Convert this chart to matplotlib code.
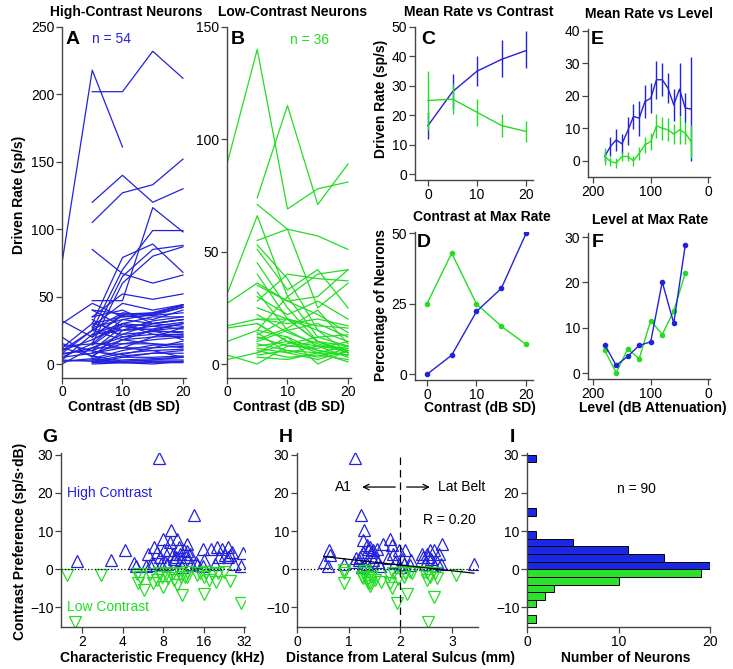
import numpy as np
import matplotlib
matplotlib.use("Agg")
import matplotlib.pyplot as plt

plt.rcParams['font.family'] = ['Liberation Sans', 'DejaVu Sans']
plt.rcParams['font.size'] = 10

BLUE = '#2222dd'
GREEN = '#22dd22'

# ---------------- data ----------------
contrasts = [0, 5, 10, 15, 20]
nan = np.nan

# A: driven rate of high-contrast neurons (sp/s) at each contrast
high_rates = [
    [75, 218, 161, nan, nan], [nan, 202, 202, 232, 212], [nan, 120, 140, 120, 130],
    [nan, 105, 127, 133, 152], [nan, 85, 67, 60, 66], [nan, 47, 47, 116, 98],
    [nan, 30, 79, 89, 68], [nan, 25, 70, 99, 99], [nan, 20, 65, 85, 88],
    [nan, 15, 60, 80, 87], [nan, 35, 52, 48, 52], [nan, 28, 45, 40, 44],
    [12, 30, 35, 38, 43], [8, 25, 38, 36, 42], [32, 20, 37, 37, 44],
    [nan, 20, 36, 33, 40], [10, 18, 30, 35, 35], [5, 15, 33, 30, 33],
    [nan, 14, 30, 28, 31], [15, 10, 28, 30, 28], [3, 22, 25, 26, 30],
    [nan, 40, 28, 25, 27], [20, 5, 25, 28, 26], [nan, 26, 22, 24, 24],
    [7, 12, 20, 22, 22], [nan, 10, 18, 20, 21], [nan, 8, 15, 18, 20],
    [13, 15, 15, 15, 14], [nan, 12, 12, 12, 13], [nan, 4, 10, 14, 15],
    [2, 3, 8, 10, 11], [nan, 2, 6, 8, 10], [nan, 1, 5, 5, 6],
    [nan, 3, 3, 4, 5], [3, 2, 2, 3, 3], [nan, 1, 1, 2, 2],
    [nan, 0, 1, 1, 1], [nan, 33, 20, 25, 18], [30, 45, 35, 36, 38],
    [nan, 35, 40, 30, 33], [10, 25, 18, 15, 12], [nan, 18, 28, 25, 30],
    [5, 8, 12, 20, 27], [nan, 22, 30, 22, 20], [nan, 6, 18, 25, 23],
    [8, 10, 5, 8, 8], [nan, 30, 25, 32, 35], [0, 12, 22, 30, 33],
    [nan, 16, 12, 10, 5], [nan, 40, 37, 38, 44], [12, 6, 2, 3, 5],
    [nan, 27, 33, 37, 42], [nan, 9, 7, 12, 17], [2, 4, 1, 0, 2],
]

# B: driven rate of low-contrast neurons
low_rates = [
    [89, 140, 69, 78, 81], [nan, 74, 115, 71, 89], [nan, 71, 60, 57, 51],
    [31, 66, 30, 40, 42], [nan, 55, 60, 25, 36], [nan, 53, 38, 15, 5],
    [nan, 51, 33, 42, 25], [27, 36, 28, 30, 42], [nan, 45, 25, 10, 5],
    [17, 20, 20, 17, 16], [nan, 28, 40, 38, 37], [10, 15, 30, 12, 8],
    [nan, 30, 22, 28, 20], [nan, 25, 20, 15, 10], [4, 0, 8, 10, 5],
    [nan, 20, 18, 20, 17], [nan, 18, 10, 8, 7], [2, 5, 12, 0, 6],
    [nan, 15, 12, 6, 4], [nan, 13, 20, 10, 6], [nan, 12, 8, 7, 10],
    [nan, 10, 15, 8, 3], [nan, 9, 6, 5, 4], [nan, 8, 10, 5, 8],
    [nan, 7, 5, 8, 6], [nan, 6, 3, 4, 2], [nan, 5, 9, 12, 13],
    [nan, 4, 6, 3, 7], [nan, 3, 2, 5, 1], [16, 18, 10, 6, 4],
    [nan, 40, 20, 10, 8], [nan, 35, 28, 22, 14], [nan, 11, 16, 24, 9],
    [nan, 22, 14, 9, 5], [nan, 14, 5, 2, 6], [nan, 32, 15, 18, 12],
]

# C: mean rate vs contrast
mean_high = [16.5, 28, 35, 39, 42]
lo_high = [12, 22, 30, 33, 36]
hi_high = [21, 34, 40, 45.5, 48.5]
mean_low = [25, 25.5, 21, 16.5, 14.5]
lo_low = [15, 20.5, 16.5, 12.5, 11]
hi_low = [35, 30.5, 25.5, 20.5, 18]

# E: mean rate vs level (dB attenuation)
levels = [180, 170, 160, 150, 140, 130, 120, 110, 100, 90, 80, 70, 60, 50, 40, 30]
lvl_high = [1.3, 4.4, 6.4, 5.2, 9.2, 13.6, 13.1, 18.2, 19.2, 24.9, 24.9, 22.3, 17.2, 22, 16.2, 15.9]
lvl_high_err = [1.5, 3, 3.5, 3, 4.3, 3.7, 5.4, 5.1, 4.6, 5.9, 5.1, 4.6, 4.9, 8.2, 4.6, 16]
lvl_low = [1.3, -0.2, -0.7, 1.3, 1.3, 0, 2.3, 4.9, 5.9, 10.7, 10, 9.5, 8.2, 9.5, 8.5, 5.9]
lvl_low_err = [2.5, 1.5, 1.5, 1.5, 1.5, 1.5, 2, 2.5, 2.5, 3.8, 3.5, 3.5, 3, 4.3, 3.5, 5]

# D: contrast at max rate (% of neurons)
pct_high = [0, 6.8, 22.3, 30.5, 50]
pct_low = [25, 43, 25, 17.1, 10.6]

# F: level at max rate (% of neurons)
max_levels = [180, 160, 140, 120, 100, 80, 60, 40]
lvlmax_high = [6.3, 1.7, 3.7, 6.1, 6.9, 20.1, 11, 28.2]
lvlmax_low = [5.0, 0.1, 5.3, 3.2, 11.6, 8.5, 13.7, 22]

# G: contrast preference vs characteristic frequency (kHz)
cf_high = [1.84, 3.25, 4.16, 4.86, 5.06, 5.93, 6.16, 6.82, 7.15, 6.7, 7.57, 7.46, 8.0, 8.1,
           8.2, 8.6, 9.0, 9.1, 9.4, 9.6, 10.2, 10.5, 10.7, 10.8, 11.4, 11.8, 12.1, 12.6,
           12.8, 13.6, 14.0, 14.4, 15.7, 15.7, 18.1, 19.4, 20.8, 21.8, 23.0, 24.1, 24.1,
           25.9, 26.9, 30.2, 31.6, 6.4, 7.7, 8.8, 10.0, 12.1, 16.0, 20.0, 25.0, 11.0]
pref_high_g = [2.1, 2.5, 5.1, 1.7, 0.9, 0.9, 4.1, 5.8, 4.5, 1.7, 3.2, 29.1, 8.0, 5.0,
               1.9, 1.3, 7.1, 10.2, 4.1, 2.8, 8.0, 5.8, 4.1, 2.4, 5.0, 3.2, 6.7, 4.1,
               1.5, 14.1, 1.9, 1.0, 5.4, 0.9, 5.4, 1.5, 3.1, 5.4, 3.7, 5.8, 3.2,
               4.5, 1.3, 0.8, 4.3, 1.0, 1.5, 5.0, 3.2, 4.8, 2.4, 5.8, 3.7, 0.6]
cf_low = [1.55, 1.76, 2.74, 5.07, 5.2, 5.77, 6.37, 6.76, 7.46, 7.8, 8.0, 8.34, 8.7, 9.4,
          9.7, 10.2, 10.7, 10.9, 11.1, 11.6, 12.1, 14.4, 16.1, 16.1, 16.8, 17.5, 18.6,
          19.7, 20.3, 22.7, 25.1, 30.2, 12.1, 5.4, 7.2, 15.1]
pref_low_g = [-1.6, -13.8, -1.6, -1.3, -3.5, -5.5, -1.3, -3.7, -1.1, -2.0, -4.6, -1.3, -2.4,
              -1.1, -2.9, -4.2, -1.3, -2.0, -6.8, -2.0, -0.7, -1.6, -6.4, -2.0, -0.7, -2.9,
              -1.3, -3.3, -1.1, -0.7, -3.1, -8.8, -2.0, -2.0, -2.9, -1.1]

# H: contrast preference vs distance from lateral sulcus (mm)
dist_high = [1.12, 0.61, 0.52, 0.64, 0.59, 0.9, 1.23, 1.3, 1.28, 1.35, 1.38, 1.22, 1.19, 1.26,
             1.35, 1.44, 1.47, 1.54, 1.41, 1.47, 1.51, 1.57, 1.67, 1.8, 1.83, 1.86, 1.9, 1.98,
             2.04, 2.09, 2.07, 2.19, 2.41, 2.44, 2.48, 2.51, 2.54, 2.57, 2.6, 2.64, 2.65, 2.75,
             2.81, 2.79, 3.42, 1.28, 1.15, 1.3, 1.6, 1.75, 2.0, 2.2, 2.7, 1.1]
pref_high_h = [29.1, 5.0, 1.9, 3.7, 0.9, 1.5, 14.1, 10.2, 7.6, 6.3, 5.4, 3.2, 2.4, 0.6,
               1.5, 4.5, 2.4, 5.4, 5.8, 5.0, 3.2, 1.9, 6.7, 8.0, 6.3, 4.1, 1.9, 5.0,
               2.8, 5.0, 1.5, 1.0, 4.1, 3.2, 1.5, 4.1, 3.2, 5.0, 2.8, 5.0, 1.0, 4.1,
               6.7, 1.5, 1.3, 4.5, 3.0, 1.0, 0.8, 3.0, 0.6, 2.5, 2.0, 2.0]
dist_low = [0.9, 0.91, 0.9, 1.25, 1.28, 1.35, 1.38, 1.41, 1.44, 1.5, 1.28, 1.38, 1.41, 1.63,
            1.77, 1.8, 1.83, 1.86, 1.94, 2.06, 2.09, 2.12, 2.19, 2.22, 2.51, 2.51, 2.54, 2.57,
            2.65, 2.67, 2.7, 3.08, 1.32, 1.45, 2.45, 1.95]
pref_low_h = [-0.3, -1.1, -3.7, -2.0, -2.4, -2.9, -3.7, -4.3, -2.0, -2.9, -1.1, -2.4, -3.7,
              -3.3, -1.6, -3.7, -5.0, -1.1, -8.8, -2.0, -1.1, -6.4, -0.7, -1.1, -1.1, -2.9,
              -13.8, -2.0, -7.2, -1.1, -2.4, -1.6, -0.5, -1.5, -0.6, -2.5]
fit_slope = -1.5
fit_intercept = 4.1
area_border = 2.0

# I: histogram of contrast preference (bin width 2, lower edges)
bin_low_edges = [-14, -12, -10, -8, -6, -4, -2, 0, 2, 4, 6, 8, 10, 12, 14, 16, 18, 20, 22, 24, 26, 28]
high_counts = [0, 0, 0, 0, 0, 0, 0, 20, 15, 11, 5, 1, 0, 0, 1, 0, 0, 0, 0, 0, 0, 1]
low_counts = [1, 0, 1, 2, 3, 10, 19, 0, 0, 0, 0, 0, 0, 0, 0, 0, 0, 0, 0, 0, 0, 0]

# ---------------- layout ----------------
W, H = 733, 669
fig = plt.figure(figsize=(W / 100, H / 100), dpi=100)


def box(l, t, r, b):
    return [l / W, 1 - b / H, (r - l) / W, (b - t) / H]


def style(ax):
    for s in ['top', 'right']:
        ax.spines[s].set_visible(False)
    for s in ['left', 'bottom']:
        ax.spines[s].set_color('#444444')
        ax.spines[s].set_linewidth(1.0)
    ax.tick_params(direction='out', length=4, width=0.9, color='#444444', labelsize=10, pad=1.5)


def ftext(x, y, s, **kw):
    fig.text(x / W, 1 - y / H, s, **kw)


axA = fig.add_axes(box(62, 27, 186, 377.5))
axB = fig.add_axes(box(227, 27, 351, 377.5))
axC = fig.add_axes(box(415, 27, 533, 180))
axE = fig.add_axes(box(588, 29, 710, 177))
axD = fig.add_axes(box(415, 232, 533, 380))
axF = fig.add_axes(box(588, 233, 710, 379))
axG = fig.add_axes(box(61, 453, 245, 627))
axH = fig.add_axes(box(297, 453, 478, 627))
axI = fig.add_axes(box(527, 453, 710, 627))
for ax in [axA, axB, axC, axD, axE, axF, axG, axH, axI]:
    style(ax)

# A
for r in high_rates:
    axA.plot(contrasts, r, color=BLUE, lw=0.9)
axA.set_xlim(0, 20.5)
axA.set_ylim(-10, 250)
axA.set_xticks([0, 10, 20])
axA.set_yticks([0, 50, 100, 150, 200, 250])
axA.text(5, 241, 'n = 54', color=BLUE, fontsize=10, va='center')

# B
for r in low_rates:
    axB.plot(contrasts, r, color=GREEN, lw=0.9)
axB.set_xlim(0, 20.5)
axB.set_ylim(-6, 150)
axB.set_xticks([0, 10, 20])
axB.set_yticks([0, 50, 100, 150])
axB.text(10.4, 144, 'n = 36', color=GREEN, fontsize=10, va='center')

# C
axC.plot(contrasts, mean_high, color=BLUE, lw=1)
axC.vlines(contrasts, lo_high, hi_high, color=BLUE, lw=1)
axC.plot(contrasts, mean_low, color=GREEN, lw=1)
axC.vlines(contrasts, lo_low, hi_low, color=GREEN, lw=1)
axC.set_xlim(-2.65, 21.4)
axC.set_ylim(-2, 50)
axC.set_xticks([0, 10, 20])
axC.set_yticks([0, 10, 20, 30, 40, 50])

# E
lh = np.array(lvl_high)
ll = np.array(lvl_low)
axE.plot(levels, lh, color=BLUE, lw=1)
axE.vlines(levels, lh - np.array(lvl_high_err), lh + np.array(lvl_high_err), color=BLUE, lw=1)
axE.plot(levels, ll, color=GREEN, lw=1)
axE.vlines(levels, ll - np.array(lvl_low_err), ll + np.array(lvl_low_err), color=GREEN, lw=1)
axE.set_xlim(209, -3)
axE.set_ylim(-5, 40.5)
axE.set_xticks([200, 100, 0])
axE.set_yticks([0, 10, 20, 30, 40])

# D
axD.plot(contrasts, pct_low, color=GREEN, lw=1, marker='o', ms=3)
axD.plot(contrasts, pct_high, color=BLUE, lw=1, marker='o', ms=3)
axD.set_xlim(-2.4, 21.4)
axD.set_ylim(-2, 50.5)
axD.set_xticks([0, 10, 20])
axD.set_yticks([0, 25, 50])

# F
axF.plot(max_levels, lvlmax_low, color=GREEN, lw=1, marker='o', ms=3)
axF.plot(max_levels, lvlmax_high, color=BLUE, lw=1, marker='o', ms=3)
axF.set_xlim(209, -3)
axF.set_ylim(-1.3, 30.9)
axF.set_xticks([200, 100, 0])
axF.set_yticks([0, 10, 20, 30])

# G
axG.plot(cf_high, pref_high_g, ls='none', marker='^', ms=8, mfc='none', mec=BLUE, mew=0.9)
axG.plot(cf_low, pref_low_g, ls='none', marker='v', ms=8, mfc='none', mec=GREEN, mew=0.9)
axG.set_xscale('log', base=2)
axG.set_xlim(1.39, 32.5)
axG.set_xticks([2, 4, 8, 16, 32])
axG.set_xticklabels(['2', '4', '8', '16', '32'])
axG.minorticks_off()
axG.axhline(0, color='k', lw=0.9, ls=':')
axG.set_ylim(-15.1, 30.4)
axG.set_yticks([-10, 0, 10, 20, 30])
axG.set_yticklabels(['\u221210', '0', '10', '20', '30'])
axG.text(1.54, 20, 'High Contrast', color=BLUE, fontsize=10, va='center')
axG.text(1.54, -9.8, 'Low Contrast', color=GREEN, fontsize=10, va='center')

# H
axH.plot(dist_high, pref_high_h, ls='none', marker='^', ms=8, mfc='none', mec=BLUE, mew=0.9)
axH.plot(dist_low, pref_low_h, ls='none', marker='v', ms=8, mfc='none', mec=GREEN, mew=0.9)
allx = np.array(dist_high + dist_low)
fx = np.array([allx.min(), allx.max()])
axH.plot(fx, fit_intercept + fit_slope * fx, color='k', lw=0.9)
axH.axhline(0, color='k', lw=0.9, ls=':')
axH.axvline(area_border, color='k', lw=0.9, ls=(0, (6, 4)))
axH.set_xlim(0, 3.5)
axH.set_ylim(-15.1, 30.4)
axH.set_xticks([0, 1, 2, 3])
axH.set_yticks([-10, 0, 10, 20, 30])
axH.set_yticklabels(['\u221210', '0', '10', '20', '30'])
axH.text(0.9, 21.5, 'A1', ha='center', va='center', fontsize=10)
axH.text(2.73, 21.5, 'Lat Belt', ha='left', va='center', fontsize=10)
axH.text(2.44, 13, 'R = 0.20', ha='left', va='center', fontsize=10)
axH.annotate('', xy=(1.26, 21.5), xytext=(1.9, 21.5),
             arrowprops=dict(arrowstyle='->', color='k', lw=0.9, shrinkA=0, shrinkB=0))
axH.annotate('', xy=(2.57, 21.5), xytext=(2.12, 21.5),
             arrowprops=dict(arrowstyle='->', color='k', lw=0.9, shrinkA=0, shrinkB=0))

# I
edges = np.array(bin_low_edges)
axI.barh(edges + 1, high_counts, height=2, color='#1a28e6', edgecolor='k', lw=0.7)
axI.barh(edges + 1, low_counts, height=2, color='#2ee02e', edgecolor='k', lw=0.7)
axI.set_xlim(0, 20)
axI.set_ylim(-15.1, 30.4)
axI.set_xticks([0, 10, 20])
axI.set_yticks([-10, 0, 10, 20, 30])
axI.set_yticklabels(['\u221210', '0', '10', '20', '30'])
axI.text(12, 21, 'n = 90', ha='center', va='center', fontsize=10)

# titles
tkw = dict(ha='center', va='center', fontsize=10, fontweight='bold')
ftext(126, 12, 'High-Contrast Neurons', **tkw)
ftext(293, 12, 'Low-Contrast Neurons', **tkw)
ftext(479, 12, 'Mean Rate vs Contrast', **tkw)
ftext(649, 14, 'Mean Rate vs Level', **tkw)
ftext(482, 217, 'Contrast at Max Rate', **tkw)
ftext(650, 220, 'Level at Max Rate', **tkw)

# panel letters
lkw = dict(ha='left', va='center', fontsize=14, fontweight='bold')
for x, y, s in [(66, 39, 'A'), (231, 39, 'B'), (421, 39, 'C'), (591, 39, 'E'),
                (417, 242, 'D'), (592, 242, 'F'), (42, 438, 'G'), (279, 438, 'H'), (510, 438, 'I')]:
    ftext(x, y, s, **lkw)

# axis labels
akw = dict(ha='center', va='center', fontsize=10, fontweight='bold')
ftext(124, 407, 'Contrast (dB SD)', **akw)
ftext(289, 407, 'Contrast (dB SD)', **akw)
ftext(480, 408, 'Contrast (dB SD)', **akw)
ftext(653, 408, 'Level (dB Attenuation)', **akw)
ftext(162, 658, 'Characteristic Frequency (kHz)', **akw)
ftext(400, 658, 'Distance from Lateral Sulcus (mm)', **akw)
ftext(626, 658, 'Number of Neurons', **akw)
ftext(19, 195, 'Driven Rate (sp/s)', rotation=90, **akw)
ftext(381, 99, 'Driven Rate (sp/s)', rotation=90, **akw)
ftext(381, 305, 'Percentage of Neurons', rotation=90, **akw)
ftext(20, 541, 'Contrast Preference (sp/s\u00b7dB)', rotation=90, **akw)

fig.savefig('out.png', dpi=100)
